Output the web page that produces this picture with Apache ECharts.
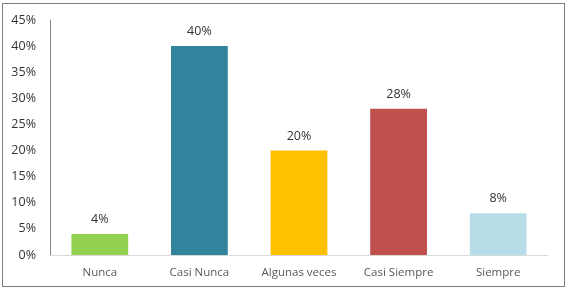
<!DOCTYPE html>
<html>
<head>
<meta charset="utf-8">
<script src="https://cdn.jsdelivr.net/npm/echarts@6/dist/echarts.min.js"></script>
<style>
  html, body { margin: 0; padding: 0; background: #fff; }
  #frame { position: absolute; left: 2px; top: 3px; width: 561px; height: 282px; border: 1.5px solid #7f7f7f; }
  #chart { position: absolute; left: 0; top: 0; width: 570px; height: 290px; }
</style>
</head>
<body>
<div id="frame"></div>
<div id="chart"></div>
<script>
const categories = ["Nunca", "Casi Nunca", "Algunas veces", "Casi Siempre", "Siempre"];
const values = [4, 40, 20, 28, 8];
const barColors = ["#92D050", "#31849B", "#FFC000", "#C0504D", "#B7DEE8"];

const chart = echarts.init(document.getElementById("chart"));
const option = {
  animation: false,
  textStyle: { fontFamily: "Open Sans" },
  grid: { left: 50, right: 22, top: 20, bottom: 35 },
  xAxis: {
    type: "category",
    data: categories,
    axisTick: { show: false },
    axisLine: { lineStyle: { color: "#d9d9d9" } },
    axisLabel: { color: "#595959", fontSize: 11.5, margin: 12 }
  },
  yAxis: {
    type: "value",
    min: 0,
    max: 45,
    interval: 5,
    splitLine: { show: false },
    axisLine: { show: true, lineStyle: { color: "#868686" } },
    axisTick: { show: false },
    axisLabel: { color: "#333", fontSize: 12.5, margin: 14, formatter: "{value}%" }
  },
  series: [{
    type: "bar",
    barWidth: "57%",
    data: values.map((v, i) => ({ value: v, itemStyle: { color: barColors[i] } })),
    label: { show: true, position: "top", distance: 8, color: "#333", fontSize: 12.5, formatter: "{c}%" }
  }]
};
chart.setOption(option);
</script>
</body>
</html>
